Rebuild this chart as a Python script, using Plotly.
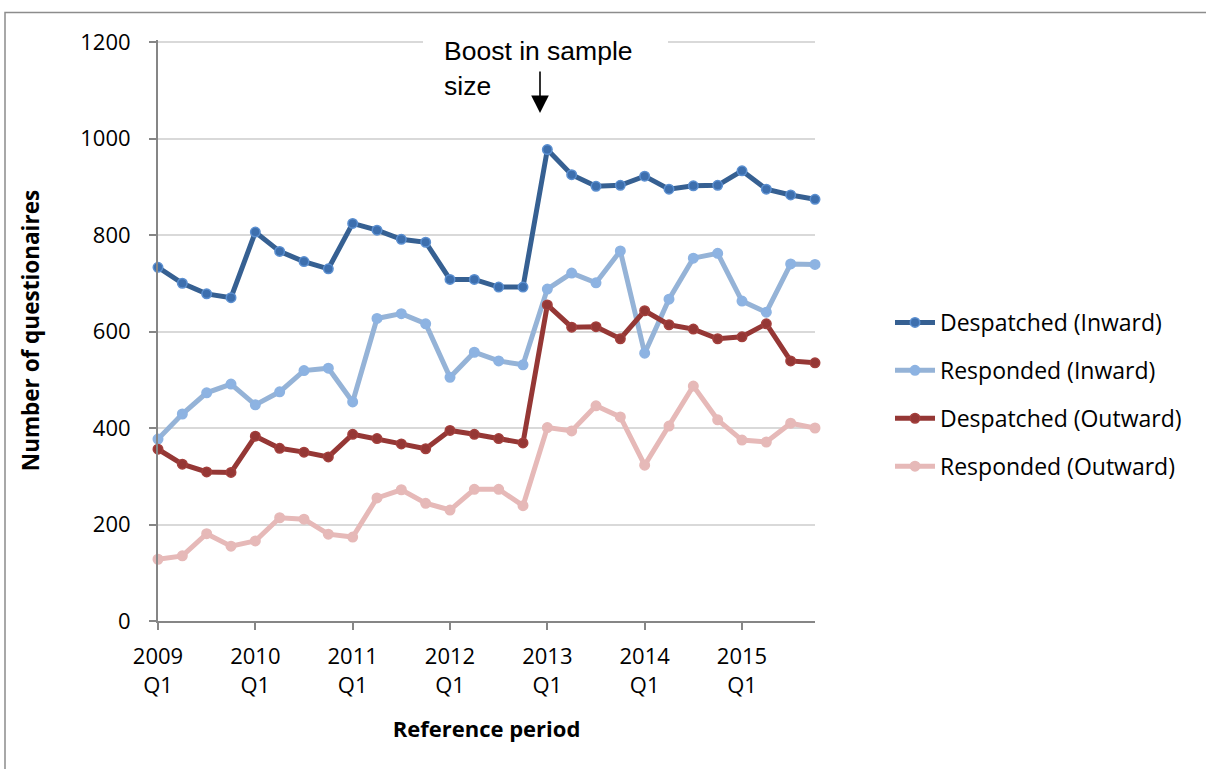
import plotly.graph_objects as go

# Reference periods (quarters) and the four questionnaire series
quarters = [f"{year} Q{q}" for year in range(2009, 2016) for q in range(1, 5)]

despatched_inward = [733, 700, 678, 670, 806, 766, 745, 730, 824, 810, 791, 785,
                     708, 708, 692, 692, 977, 925, 901, 903, 922, 895, 902, 903,
                     933, 895, 883, 874]
responded_inward = [377, 429, 473, 491, 448, 475, 519, 524, 454, 627, 637, 616,
                    505, 557, 539, 531, 688, 721, 701, 767, 555, 667, 752, 762,
                    663, 640, 740, 739]
despatched_outward = [356, 325, 309, 308, 383, 358, 350, 340, 387, 378, 367, 357,
                      395, 387, 378, 369, 655, 609, 610, 585, 643, 614, 605, 585,
                      589, 616, 539, 535]
responded_outward = [128, 135, 181, 155, 166, 214, 211, 180, 174, 255, 272, 244,
                     230, 273, 273, 239, 401, 394, 446, 423, 323, 404, 487, 417,
                     375, 371, 410, 400]

tick_positions = quarters[::4]
tick_labels = ["2009<br>Q1", "2010<br>Q1", "2011<br>Q1", "2012<br>Q1",
               "2013<br>Q1", "2014<br>Q1", "2015<br>Q1"]
y_ticks = [0, 200, 400, 600, 800, 1000, 1200]

series = [
    ("Despatched (Inward)", despatched_inward, "#366092", "#3D6FAE", "#5B8FD0"),
    ("Responded (Inward)", responded_inward, "#95B3D7", "#8DB3E2", "#8DB3E2"),
    ("Despatched (Outward)", despatched_outward, "#953735", "#953735", "#A33F3C"),
    ("Responded (Outward)", responded_outward, "#E6B9B8", "#E6B9B8", "#E6B9B8"),
]

BODY_FONT = "Open Sans"
NOTE_FONT = "Liberation Sans"

fig = go.Figure()
for i, (name, values, line_col, mk_col, mk_edge) in enumerate(series):
    fig.add_trace(go.Scatter(
        x=quarters, y=values, name=name, mode="lines+markers",
        line=dict(color=line_col, width=5),
        marker=dict(size=9.5, color=mk_col, line=dict(color=mk_edge, width=1.5)),
        cliponaxis=False, legendgroup=f"g{i}",
    ))

# plot area in pixels: x 158..815, y 40..621 (value 1200 sits at y=42)
PX_L, PX_R, PX_T, PX_B = 158, 815, 40, 621
Y_MAX = 1204.15


def px_x(px):
    return (px - PX_L) / (PX_R - PX_L)


def px_y(py):
    return (PX_B - py) / (PX_B - PX_T)


fig.update_layout(
    width=1206, height=769,
    margin=dict(l=PX_L, r=1206 - PX_R, t=PX_T, b=769 - PX_B),
    paper_bgcolor="white", plot_bgcolor="white",
    font=dict(family=BODY_FONT, size=22, color="black"),
    showlegend=True,
    legend=dict(
        x=px_x(890), xanchor="left", y=px_y(301), yanchor="top",
        font=dict(family=BODY_FONT, size=23, color="black"),
        traceorder="grouped", tracegroupgap=15, bgcolor="rgba(0,0,0,0)",
        itemwidth=40,
    ),
    xaxis=dict(
        type="category", range=[0, 27], showgrid=False, zeroline=False,
        showline=True, linecolor="#868686", linewidth=2,
        ticks="outside", ticklen=7, tickwidth=2, tickcolor="#868686",
        tickmode="array", tickvals=tick_positions, ticktext=tick_labels,
        tickfont=dict(family=BODY_FONT, size=22), ticklabelstandoff=8,
        title=dict(text="<b>Reference period</b>", standoff=24,
                   font=dict(family=BODY_FONT, size=22)),
    ),
    yaxis=dict(
        range=[0, Y_MAX], tickmode="array", tickvals=y_ticks,
        showgrid=True, gridcolor="#D9D9D9", gridwidth=1.5, zeroline=False,
        showline=True, linecolor="#868686", linewidth=2,
        ticks="outside", ticklen=7, tickwidth=2, tickcolor="#868686",
        tickfont=dict(family=BODY_FONT, size=22), ticklabelstandoff=14,
        title=dict(text="<b>Number of questionaires</b>", standoff=34,
                   font=dict(family=BODY_FONT, size=22.5)),
    ),
)

# outer chart frame
fig.add_shape(type="rect", xref="paper", yref="paper",
              x0=px_x(5), x1=px_x(1230), y0=px_y(800), y1=px_y(12.5),
              line=dict(color="#8C8C8C", width=1.5), fillcolor="rgba(0,0,0,0)")

# white note box: hides the top gridline behind the note text
fig.add_shape(type="rect", xref="paper", yref="paper", layer="above",
              x0=px_x(423), x1=px_x(668), y0=px_y(48), y1=px_y(36),
              line=dict(width=0), fillcolor="white")

fig.add_annotation(xref="paper", yref="paper", x=px_x(442), y=px_y(51),
                   xanchor="left", yanchor="middle", text="Boost in sample",
                   showarrow=False, font=dict(family=NOTE_FONT, size=26.5, color="black"))
fig.add_annotation(xref="paper", yref="paper", x=px_x(442), y=px_y(86),
                   xanchor="left", yanchor="middle", text="size",
                   showarrow=False, font=dict(family=NOTE_FONT, size=26.5, color="black"))
fig.add_annotation(xref="paper", yref="paper", x=px_x(540), y=px_y(113),
                   ax=0, ay=-43, text="", showarrow=True,
                   arrowhead=2, arrowsize=2.2, arrowwidth=1.6, arrowcolor="black")

fig.write_html("out.html")
